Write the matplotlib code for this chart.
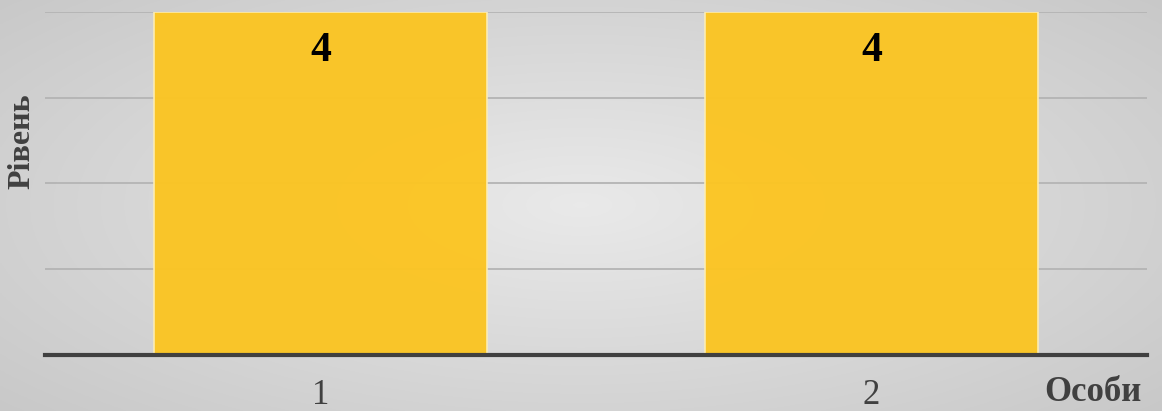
import numpy as np
import matplotlib.pyplot as plt

categories = ['1', '2']
values = [4, 4]
x_title = 'Особи'
y_title = 'Рівень'

plt.rcParams['font.family'] = ['Liberation Serif', 'DejaVu Serif']

fig = plt.figure(figsize=(11.62, 4.11), dpi=100)

# radial grey background, light in the middle
bg = fig.add_axes([0, 0, 1, 1], zorder=-10)
yy, xx = np.mgrid[-1:1:300j, -1:1:600j]
r = np.clip(np.sqrt(xx ** 2 + (yy * 0.9) ** 2) / 1.35, 0, 1)
grey = 0.915 - 0.13 * r
img = np.dstack([grey, grey, grey])
bg.imshow(img, aspect='auto', extent=[0, 1, 0, 1])
bg.axis('off')

ax = fig.add_axes([45 / 1162, 56 / 411, 1102 / 1162, 343 / 411])
ax.patch.set_alpha(0)
pos = np.arange(len(categories))
bars = ax.bar(pos, values, width=0.606, color='#FBC523', edgecolor='#FCEDB5',
              linewidth=1.2, alpha=0.97, zorder=2)
for b, v in zip(bars, values):
    ax.text(b.get_x() + b.get_width() / 2, v - 0.45, str(v), ha='center',
            va='center', fontsize=30, fontweight='bold', color='black', zorder=3)

ax.set_xlim(-0.5, 1.5)
ax.set_ylim(0, 4)
ax.set_yticks([1, 2, 3, 4])
ax.yaxis.grid(True, color='#b4b4b4', linewidth=1.3, zorder=1)
ax.set_axisbelow(True)
ax.tick_params(left=False, labelleft=False, bottom=False)
ax.set_xticks(pos)
ax.set_xticklabels(categories, fontsize=25, color='#404040')
ax.tick_params(axis='x', pad=14)
for s in ['top', 'right', 'left']:
    ax.spines[s].set_visible(False)
ax.spines['bottom'].set_color('#404040')
ax.spines['bottom'].set_linewidth(3)
ax.spines['bottom'].set_zorder(4)

fig.text(1142 / 1162, 19 / 411, x_title, ha='right', va='center',
         fontsize=25, fontweight='bold', color='#404040')
fig.text(22 / 1162, 270 / 411, y_title, ha='center', va='center', rotation=90,
         fontsize=23, fontweight='bold', color='#404040')

fig.savefig('out.png', dpi=100)
